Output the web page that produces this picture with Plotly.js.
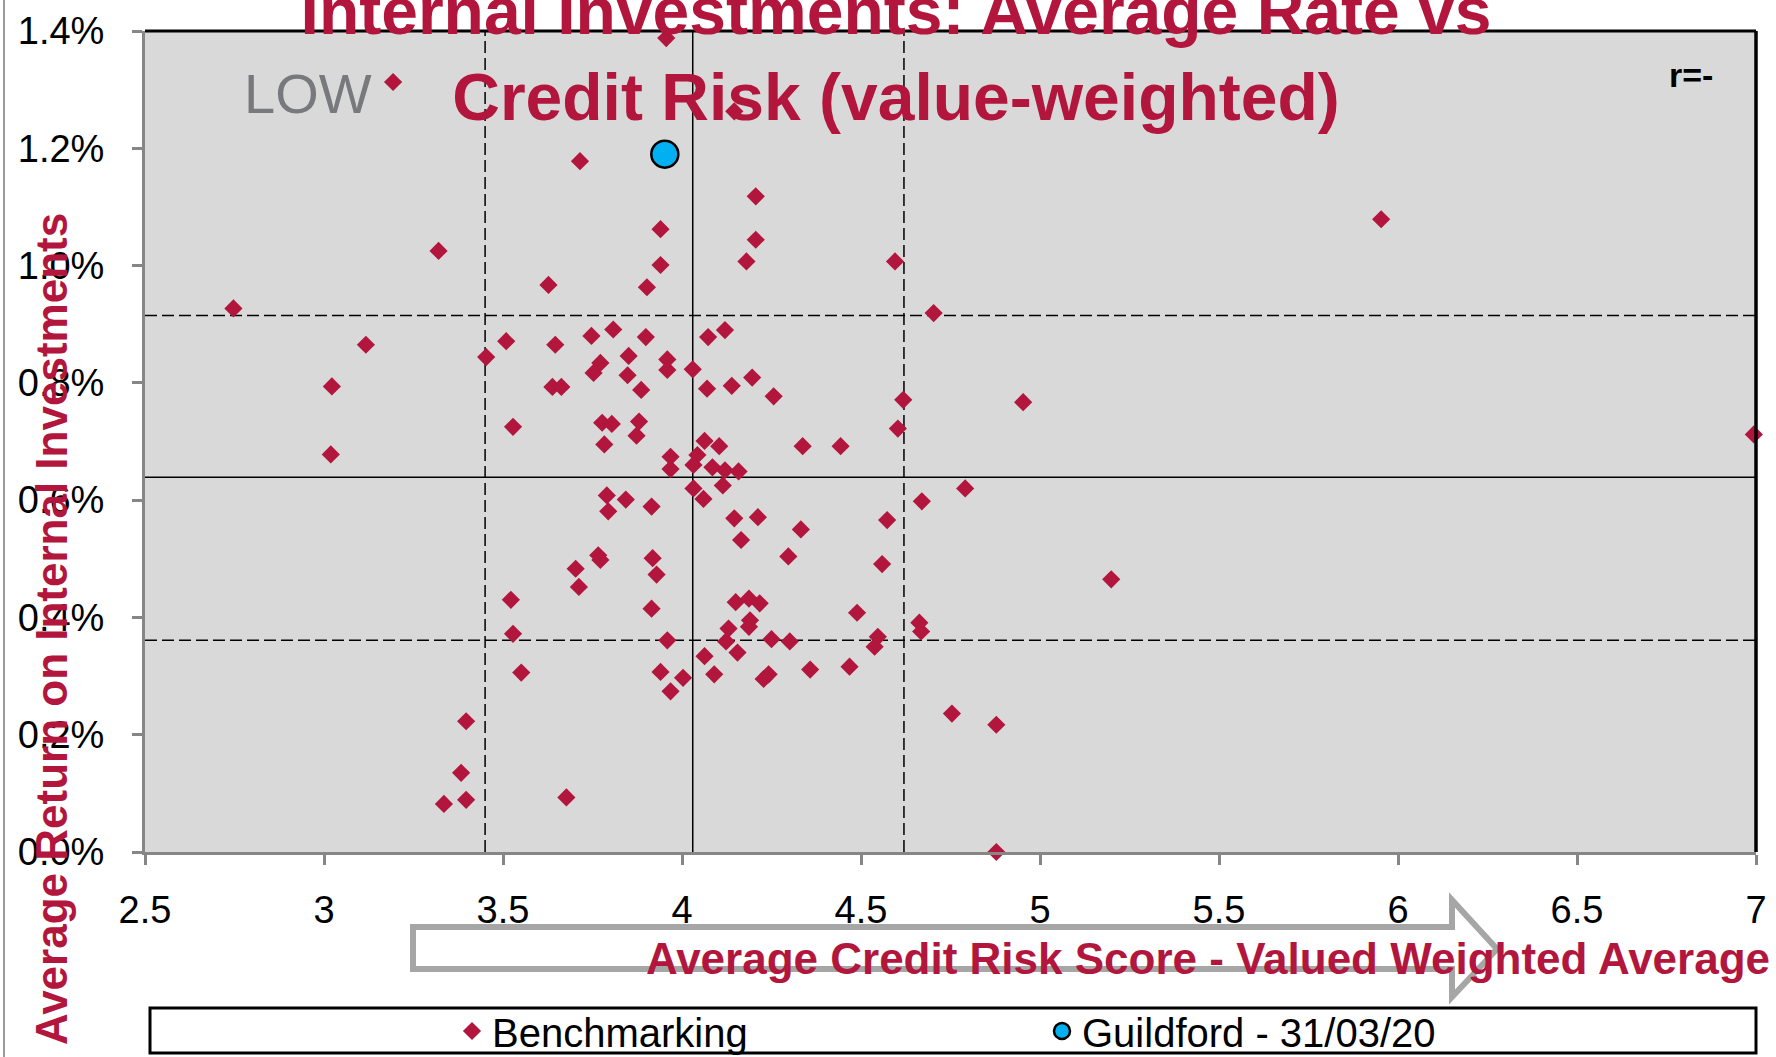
<!DOCTYPE html>
<html><head><meta charset="utf-8">
<script src="https://cdn.plot.ly/plotly-3.0.1.min.js"></script>
<style>html,body{margin:0;padding:0;background:#fff}#chart{width:1776px;height:1057px}</style>
</head><body><div id="chart"></div>
<script>
// ---- data ----
const benchX = [3.956,3.193,4.146,3.715,5.953,4.206,3.940,4.206,3.320,3.940,4.180,4.595,3.627,3.902,2.747,4.703,
  3.808,3.899,4.120,4.073,3.747,3.509,3.646,3.117,3.453,3.851,3.959,3.959,4.030,3.772,3.753,3.848,3.886,4.070,4.139,4.196,
  4.256,3.022,3.638,3.663,4.618,4.953,3.528,3.777,3.804,3.880,3.873,3.783,4.603,6.994,3.019,4.063,4.104,4.337,4.443,3.968,
  3.968,4.043,4.032,4.085,4.120,4.158,4.032,4.060,4.114,3.790,3.843,3.794,3.915,4.791,4.670,4.146,4.212,4.332,4.165,4.573,
  4.297,4.559,5.199,3.766,3.772,3.918,3.929,3.703,3.712,3.522,3.528,3.551,3.915,3.959,3.940,4.003,3.968,4.150,4.187,4.217,
  4.130,4.190,4.187,4.123,4.155,4.063,4.250,4.301,4.489,4.547,4.538,4.663,4.668,4.090,4.228,4.242,4.358,4.468,4.754,4.878,
  4.878,3.397,3.383,3.397,3.335,3.677];
const benchY = [1.388,1.313,1.263,1.178,1.079,1.118,1.062,1.044,1.025,1.001,1.007,1.007,0.967,0.963,0.927,0.919,
  0.891,0.878,0.890,0.878,0.880,0.871,0.865,0.865,0.844,0.846,0.840,0.822,0.823,0.834,0.817,0.813,0.788,0.790,0.795,0.809,
  0.777,0.794,0.793,0.793,0.771,0.767,0.725,0.732,0.730,0.734,0.710,0.695,0.722,0.712,0.678,0.701,0.692,0.692,0.692,0.674,
  0.653,0.677,0.660,0.656,0.651,0.649,0.620,0.602,0.625,0.608,0.601,0.581,0.589,0.620,0.598,0.569,0.571,0.550,0.532,0.566,
  0.504,0.491,0.465,0.506,0.498,0.501,0.473,0.483,0.452,0.430,0.372,0.306,0.415,0.361,0.307,0.297,0.274,0.426,0.432,0.424,
  0.381,0.395,0.384,0.359,0.340,0.334,0.363,0.359,0.408,0.367,0.350,0.391,0.376,0.303,0.295,0.303,0.311,0.316,0.236,0.217,
  0.000,0.223,0.135,0.089,0.082,0.093];
const guildX = [3.952];
const guildY = [1.19];
const meanLineX = [4.03];
const sdLinesX = [3.45, 4.62];
const meanLineY = [0.639];
const sdLinesY = [0.361, 0.915];
const xTickVals = [2.5,3,3.5,4,4.5,5,5.5,6,6.5,7];
const xTickText = ["2.5","3","3.5","4","4.5","5","5.5","6","6.5","7"];
const yTickVals = [0,0.2,0.4,0.6,0.8,1.0,1.2,1.4];
const yTickText = ["0.0%","0.2%","0.4%","0.6%","0.8%","1.0%","1.2%","1.4%"];
const seriesNames = ["Benchmarking","Guildford - 31/03/20"];
const titleText = "Internal Investments: Average Rate vs<br>Credit Risk (value-weighted)";
const xTitle = "Average Credit Risk Score - Valued Weighted Average";
const yTitle = "Average Return on Internal Investments";

// ---- geometry helpers (plot area in px) ----
const W = 1776, H = 1057;
const L = 145, R = 1756, T = 31, B = 852;
const px = v => (v - L) / (R - L);
const py = v => (B - v) / (B - T);

const crimson = '#B2163C';
const FONT = '"Liberation Sans", Arial, sans-serif';

const traces = [
  {type:'scatter', mode:'markers', name:seriesNames[0], x:benchX, y:benchY, cliponaxis:false,
   marker:{symbol:'diamond', size:14, color:crimson, line:{width:0}}},
  {type:'scatter', mode:'markers', name:seriesNames[1], x:guildX, y:guildY, cliponaxis:false,
   marker:{symbol:'circle', size:27, color:'#00B0F0', line:{width:2.5, color:'#000'}}}
];

const shapes = [];
sdLinesX.forEach(v => shapes.push({type:'line', xref:'x', yref:'paper', x0:v, x1:v, y0:0, y1:1, layer:'below', line:{color:'#000', width:1.5, dash:'12px,5px'}}));
meanLineX.forEach(v => shapes.push({type:'line', xref:'x', yref:'paper', x0:v, x1:v, y0:0, y1:1, layer:'below', line:{color:'#000', width:1.5}}));
sdLinesY.forEach(v => shapes.push({type:'line', xref:'paper', yref:'y', x0:0, x1:1, y0:v, y1:v, layer:'below', line:{color:'#000', width:1.5, dash:'12px,5px'}}));
meanLineY.forEach(v => shapes.push({type:'line', xref:'paper', yref:'y', x0:0, x1:1, y0:v, y1:v, layer:'below', line:{color:'#000', width:1.5}}));
// top and right border
shapes.push({type:'line', xref:'paper', yref:'paper', x0:0, x1:1, y0:1, y1:1, layer:'above', line:{color:'#000', width:3}});
shapes.push({type:'line', xref:'paper', yref:'paper', x0:1, x1:1, y0:0, y1:1, layer:'above', line:{color:'#000', width:3.5}});
// left image border
shapes.push({type:'line', xref:'paper', yref:'paper', x0:px(4), x1:px(4), y0:py(0), y1:py(1057), line:{color:'#9a9a9a', width:2}});
// arrow
const arrowPts = [[413,927],[1452,927],[1452,900],[1497,949],[1452,997],[1452,969],[413,969]];
shapes.push({type:'path', xref:'paper', yref:'paper',
  path: 'M ' + arrowPts.map(p => px(p[0]) + ' ' + py(p[1])).join(' L ') + ' Z',
  line:{color:'#A6A6A6', width:6}, fillcolor:'rgba(255,255,255,0)'});
// legend box
shapes.push({type:'rect', xref:'paper', yref:'paper', x0:px(150), x1:px(1756), y0:py(1053), y1:py(1008),
  line:{color:'#000', width:3}, fillcolor:'rgba(255,255,255,0)'});

const annotations = [
  {text:yTitle, xref:'paper', yref:'paper', x:px(51), y:py(629), textangle:-90, showarrow:false,
   xanchor:'center', yanchor:'middle', font:{family:FONT, size:44, color:crimson, weight:'bold'}},
  {text:xTitle, xref:'paper', yref:'paper', x:px(1208), y:py(958), showarrow:false,
   xanchor:'center', yanchor:'middle', font:{family:FONT, size:44, color:crimson, weight:'bold'}},
  {text:'LOW', xref:'paper', yref:'paper', x:px(308), y:py(93), showarrow:false,
   xanchor:'center', yanchor:'middle', font:{family:FONT, size:56, color:'#77797C'}},
  {text:'<b>r=-</b>', xref:'paper', yref:'paper', x:px(1691), y:py(75), showarrow:false,
   xanchor:'center', yanchor:'middle', font:{family:FONT, size:34, color:'#000'}}
];

const layout = {
  width:W, height:H,
  margin:{l:L, r:W-R, t:T, b:H-B, pad:0, autoexpand:false},
  paper_bgcolor:'#fff', plot_bgcolor:'#D9D9D9',
  font:{family:FONT, color:'#000'},
  title:{text:titleText, xref:'container', x:896/W, xanchor:'center', yref:'paper', y:py(34), yanchor:'middle',
    font:{family:FONT, size:66, color:crimson, weight:'bold'}},
  xaxis:{range:[2.5,7], tickvals:xTickVals, ticktext:xTickText, showgrid:false, zeroline:false,
    showline:true, linecolor:'#868686', linewidth:3, ticks:'outside', ticklen:10, tickwidth:3, tickcolor:'#868686',
    ticklabelstandoff:12, tickfont:{family:FONT, size:38, color:'#000'}},
  yaxis:{range:[0,1.4], tickvals:yTickVals, ticktext:yTickText, showgrid:false, zeroline:false,
    showline:true, linecolor:'#868686', linewidth:3, ticks:'outside', ticklen:10, tickwidth:3, tickcolor:'#868686',
    ticklabelstandoff:20, tickfont:{family:FONT, size:38, color:'#000'}},
  showlegend:true,
  legend:{orientation:'h', xref:'container', x:452/W, xanchor:'left', yref:'container', y:1-1031/H, yanchor:'middle',
    bgcolor:'rgba(0,0,0,0)', borderwidth:0, entrywidth:545, entrywidthmode:'pixels',
    font:{family:FONT, size:40, color:'#000'}, itemsizing:'trace'},
  shapes:shapes, annotations:annotations
};

Plotly.newPlot('chart', traces, layout, {displayModeBar:false, staticPlot:true});
</script>
</body></html>
